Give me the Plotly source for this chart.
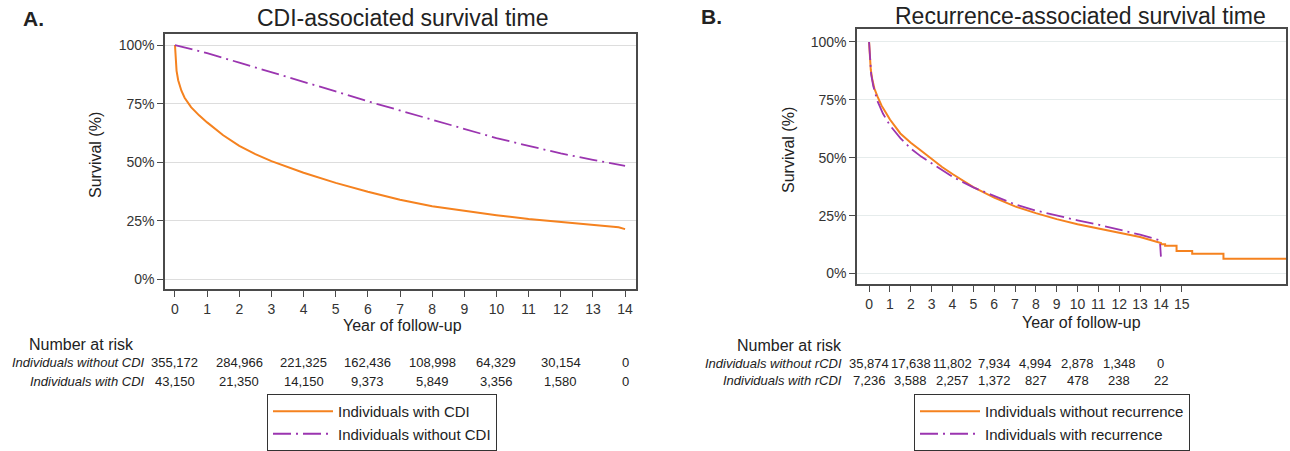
import plotly.graph_objects as go

W, H = 1290, 451


def px(x):
    return x / W


def py(y):
    return 1 - y / H


# ---------------- Panel A: CDI-associated survival ----------------
a_t_with = [0, 0.02, 0.05, 0.1, 0.2, 0.3, 0.5, 0.75, 1, 1.5, 2, 2.5, 3, 4, 5, 6, 7,
            8, 9, 10, 11, 12, 13, 13.8, 14]
a_s_with = [100, 94, 89, 85, 80.5, 77.5, 73.5, 70, 67, 61.5, 57, 53.5, 50.5, 45.5,
            41.2, 37.4, 34, 31.2, 29.2, 27.4, 25.8, 24.5, 23.2, 22.3, 21.5]

a_t_without = [0, 1, 2, 3, 4, 5, 6, 7, 8, 9, 10, 11, 12, 13, 14]
a_s_without = [100, 96.5, 92.5, 88.5, 84.5, 80.2, 76, 72, 68, 64, 60.3, 57, 53.8,
               51, 48.5]

# ---------------- Panel B: Recurrence-associated survival ----------------
b_t_without = [0, 0.03, 0.08, 0.15, 0.25, 0.4, 0.6, 0.8, 1, 1.5, 2, 2.5, 3, 3.5, 4,
               4.5, 5, 6, 7, 8, 9, 10, 11, 12, 13, 13.9, 14.0, 14.0, 14.2, 14.2,
               14.75, 14.75, 15.5, 15.5, 17.0, 17.0, 20.0]
b_s_without = [100, 93, 88, 84, 80, 76.5, 72.5, 69.5, 66.5, 60.5, 56.5, 53, 49.5, 46,
               43, 40, 37.3, 32.8, 29, 26.1, 23.5, 21.3, 19.6, 17.6, 15.8, 13.5, 13.2,
               12.7, 12.7, 12.0, 12.0, 9.7, 9.7, 8.6, 8.6, 6.4, 6.4]

b_t_with = [0, 0.05, 0.1, 0.2, 0.4, 0.67, 1, 1.5, 2, 2.5, 3, 4, 5, 6, 7, 8, 9, 10, 11,
            12, 13, 13.6, 13.95, 14.0]
b_s_with = [100, 92, 86, 81, 74.5, 69, 64, 58.5, 54, 50.5, 47.5, 41.8, 37.2, 33.5,
            29.9, 27.2, 25, 23, 21.1, 19, 16.8, 15.3, 14.3, 7.3]

# ---------------- Numbers at risk ----------------
risk_years = [0, 2, 4, 6, 8, 10, 12, 14]
a_risk_without = ["355,172", "284,966", "221,325", "162,436", "108,998", "64,329",
                  "30,154", "0"]
a_risk_with = ["43,150", "21,350", "14,150", "9,373", "5,849", "3,356", "1,580", "0"]
b_risk_without = ["35,874", "17,638", "11,802", "7,934", "4,994", "2,878", "1,348", "0"]
b_risk_with = ["7,236", "3,588", "2,257", "1,372", "827", "478", "238", "22"]

a_xticks = list(range(0, 15))
b_xticks = list(range(0, 16))
y_ticks = [0, 25, 50, 75, 100]
y_labels = ["0%", "25%", "50%", "75%", "100%"]

ORANGE = "#F5821F"
PURPLE = "#9B35B0"
DASH = "18px,5px,2px,5px"
FONT = "Liberation Sans, Arial, Helvetica, sans-serif"

fig = go.Figure()

fig.add_trace(go.Scatter(x=a_t_with, y=a_s_with, mode="lines",
                         line=dict(color=ORANGE, width=2),
                         name="Individuals with CDI", xaxis="x", yaxis="y",
                         legend="legend"))
fig.add_trace(go.Scatter(x=a_t_without, y=a_s_without, mode="lines",
                         line=dict(color=PURPLE, width=1.8, dash=DASH),
                         name="Individuals without CDI", xaxis="x", yaxis="y",
                         legend="legend"))
fig.add_trace(go.Scatter(x=b_t_without, y=b_s_without, mode="lines",
                         line=dict(color=ORANGE, width=2),
                         name="Individuals without recurrence", xaxis="x2",
                         yaxis="y2", legend="legend2"))
fig.add_trace(go.Scatter(x=b_t_with, y=b_s_with, mode="lines",
                         line=dict(color=PURPLE, width=1.8, dash=DASH),
                         name="Individuals with recurrence", xaxis="x2", yaxis="y2",
                         legend="legend2"))

axis_common = dict(showline=True, mirror=True, linecolor="#4a4a4a", linewidth=1.5,
                   ticks="outside", ticklen=6, tickcolor="#4a4a4a", tickwidth=1.2,
                   zeroline=False, tickfont=dict(size=14, color="#333333"))

legend_common = dict(xanchor="left", yanchor="top", bordercolor="#333333",
                     borderwidth=1, bgcolor="white", itemwidth=60,
                     font=dict(size=15, color="#222222"), tracegroupgap=0)

fig.update_layout(
    width=W, height=H,
    margin=dict(l=0, r=0, t=0, b=0),
    paper_bgcolor="white", plot_bgcolor="white",
    font=dict(family=FONT, color="#222222"),
    xaxis=dict(domain=[px(165), px(636)], range=[-0.31, 14.34], tickvals=a_xticks,
               showgrid=False, anchor="y", **axis_common),
    yaxis=dict(domain=[py(289), py(34)], range=[-4.05, 104.7], tickvals=y_ticks,
               ticktext=y_labels, showgrid=True, gridcolor="#DDDDDD", gridwidth=1.2,
               anchor="x", **axis_common),
    xaxis2=dict(domain=[px(857), px(1286)], range=[-0.58, 20.0], tickvals=b_xticks,
                showgrid=False, anchor="y2", **axis_common),
    yaxis2=dict(domain=[py(284), py(29)], range=[-4.5, 105.6], tickvals=y_ticks,
                ticktext=y_labels, showgrid=True, gridcolor="#E6ECEC", gridwidth=1.2,
                anchor="x2", **axis_common),
    legend=dict(x=px(267), y=py(394), **legend_common),
    legend2=dict(x=px(914), y=py(394), **legend_common),
)

ann = []


def label(text, x, y, size, xanchor="center", italic=False, bold=False, angle=0,
          xref="paper"):
    t = text
    if italic:
        t = "<i>" + t + "</i>"
    if bold:
        t = "<b>" + t + "</b>"
    ann.append(dict(text=t, x=x, y=y, xref=xref, yref="paper", xanchor=xanchor,
                    yanchor="middle", showarrow=False, textangle=angle,
                    font=dict(size=size, color="#222222")))


# Titles and panel letters
label("A.", px(33), py(18), 21, bold=True)
label("CDI-associated survival time", px(402), py(18), 23)
label("B.", px(711), py(16), 21, bold=True)
label("Recurrence-associated survival time", px(1080), py(16), 23)

# Axis titles
label("Survival (%)", px(95), py(155), 16, angle=-90)
label("Year of follow-up", px(402), py(325), 16)
label("Survival (%)", px(789), py(150), 16, angle=-90)
label("Year of follow-up", px(1081), py(322), 16)

# Number at risk tables
label("Number at risk", px(81), py(344), 16)
label("Individuals without CDI", px(147), py(362), 13, xanchor="right", italic=True)
label("Individuals with CDI", px(147), py(381), 13, xanchor="right", italic=True)
for yr, v1, v2 in zip(risk_years, a_risk_without, a_risk_with):
    label(v1, yr, py(362), 13, xref="x")
    label(v2, yr, py(381), 13, xref="x")

label("Number at risk", px(789), py(345), 16)
label("Individuals without rCDI", px(844), py(363), 13, xanchor="right", italic=True)
label("Individuals with rCDI", px(844), py(380), 13, xanchor="right", italic=True)
for yr, v1, v2 in zip(risk_years, b_risk_without, b_risk_with):
    label(v1, yr, py(363), 13, xref="x2")
    label(v2, yr, py(380), 13, xref="x2")

fig.update_layout(annotations=ann)

# Remove the default 8px page margin so the figure fills the window exactly,
# and hide the mode bar.
fig.write_html("out.html", config={"displayModeBar": False},
               post_script="document.body.style.margin='0px';")
